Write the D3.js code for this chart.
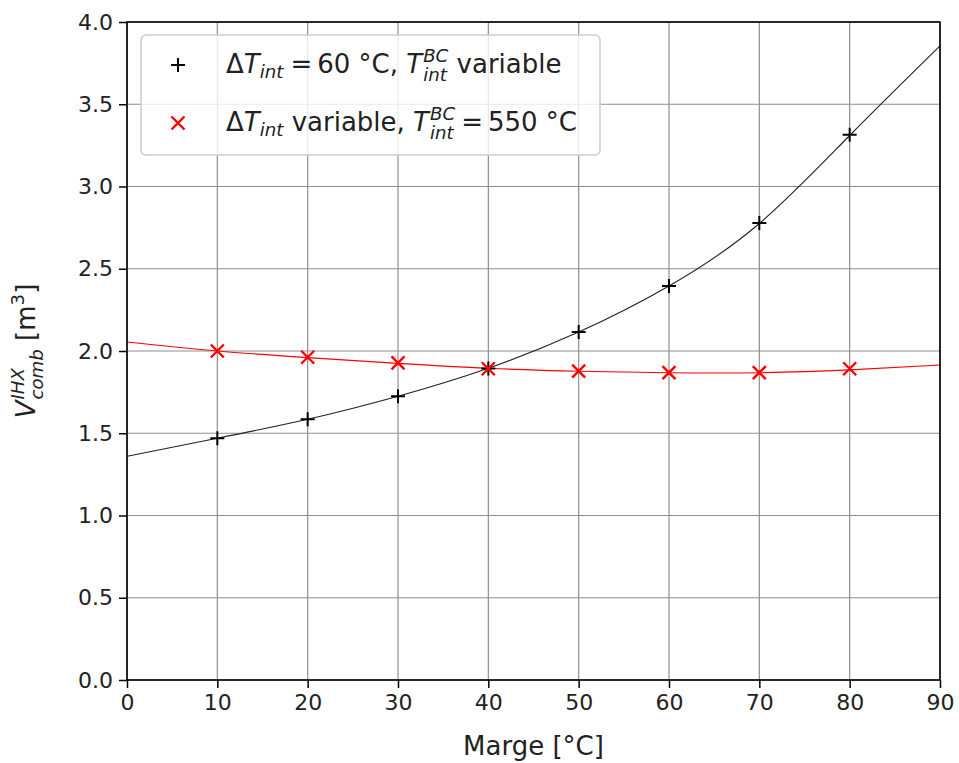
<!DOCTYPE html>
<html><head><meta charset="utf-8">
<script src="https://cdn.jsdelivr.net/npm/d3@7"></script>
<style>
body{margin:0;background:#fff;}
text{font-family:"DejaVu Sans",sans-serif;white-space:pre;}
</style></head>
<body>
<svg id="c" width="959" height="763"></svg>
<script>
// ---- data ----
const marges = [10, 20, 30, 40, 50, 60, 70, 80];
const volFixedDT = [1.47, 1.585, 1.725, 1.893, 2.115, 2.395, 2.778, 3.315];
const volFixedTBC = [2.0, 1.962, 1.928, 1.892, 1.878, 1.868, 1.868, 1.892];
const fitX = [0, 10, 20, 30, 40, 50, 60, 70, 80, 90];
const fitFixedDT = [1.36, 1.47, 1.585, 1.725, 1.895, 2.115, 2.395, 2.775, 3.31, 3.855];
const fitFixedTBC = [2.055, 2.0, 1.96, 1.925, 1.895, 1.877, 1.868, 1.868, 1.885, 1.915];
const xTicks = [0, 10, 20, 30, 40, 50, 60, 70, 80, 90];
const yTicks = [0.0, 0.5, 1.0, 1.5, 2.0, 2.5, 3.0, 3.5, 4.0];

const svg = d3.select("#c");
const L = 127, R = 940, T = 22, B = 680;
const x = d3.scaleLinear().domain([0, 90]).range([L, R]);
const y = d3.scaleLinear().domain([0, 4]).range([B, T]);
const tickFS = 22, labFS = 26;

// grid
const grid = svg.append("g");
grid.selectAll("line.v").data(xTicks).join("line")
  .attr("x1", d => x(d)).attr("x2", d => x(d)).attr("y1", T).attr("y2", B)
  .attr("stroke", "#8f8f8f").attr("stroke-width", 1.2);
grid.selectAll("line.h").data(yTicks).join("line")
  .attr("y1", d => y(d)).attr("y2", d => y(d)).attr("x1", L).attr("x2", R)
  .attr("stroke", "#8f8f8f").attr("stroke-width", 1.2);

// fitted curves
const lineGen = d3.line().x(d => x(d[0])).y(d => y(d[1])).curve(d3.curveNatural);
svg.append("path").datum(fitX.map((v, i) => [v, fitFixedDT[i]]))
  .attr("d", lineGen).attr("fill", "none").attr("stroke", "#222").attr("stroke-width", 1.1);
svg.append("path").datum(fitX.map((v, i) => [v, fitFixedTBC[i]]))
  .attr("d", lineGen).attr("fill", "none").attr("stroke", "#ff0000").attr("stroke-width", 1.1);

// markers
const ms = 7;
function plus(g, cx, cy, col) {
  g.append("path").attr("d", `M${cx - ms},${cy}H${cx + ms}M${cx},${cy - ms}V${cy + ms}`)
    .attr("stroke", col).attr("stroke-width", 2).attr("fill", "none");
}
function cross(g, cx, cy, col) {
  const m = ms - 0.5;
  g.append("path").attr("d", `M${cx - m},${cy - m}L${cx + m},${cy + m}M${cx - m},${cy + m}L${cx + m},${cy - m}`)
    .attr("stroke", col).attr("stroke-width", 2.4).attr("fill", "none");
}
const mk = svg.append("g");
marges.forEach((m, i) => plus(mk, x(m), y(volFixedDT[i]), "#000"));
marges.forEach((m, i) => cross(mk, x(m), y(volFixedTBC[i]), "#ff0000"));

// axes
const xAxis = d3.axisBottom(x).tickValues(xTicks).tickFormat(d3.format("d")).tickSize(8).tickPadding(6);
const yAxis = d3.axisLeft(y).tickValues(yTicks).tickFormat(d3.format(".1f")).tickSize(8).tickPadding(6);
const gx = svg.append("g").attr("transform", `translate(0,${B})`).call(xAxis);
const gy = svg.append("g").attr("transform", `translate(${L},0)`).call(yAxis);
[gx, gy].forEach(g => {
  g.select(".domain").remove();
  g.selectAll(".tick line").attr("stroke", "#000").attr("stroke-width", 1.5);
  g.selectAll(".tick text").attr("fill", "#222").style("font-size", tickFS + "px").style("font-family", "DejaVu Sans");
});
svg.append("rect").attr("x", L).attr("y", T).attr("width", R - L).attr("height", B - T)
  .attr("fill", "none").attr("stroke", "#000").attr("stroke-width", 1.6);

// math text helper: one <text> element, tspans positioned explicitly
const meas = svg.append("text").attr("x", -1000).attr("y", -1000);
function measure(str, size, italic) {
  meas.style("font-size", size + "px").style("font-style", italic ? "italic" : "normal").text(str);
  return meas.node().getComputedTextLength();
}
function mathText(parent, items, size) {
  const t = parent.append("text").attr("fill", "#222");
  let cx = 0;
  const ss = size * 0.7;
  items.forEach(it => {
    if (it.s !== undefined) {
      t.append("tspan").attr("x", cx).attr("y", 0).style("font-size", size + "px")
        .style("font-style", it.it ? "italic" : "normal").text(it.s);
      cx += measure(it.s, size, it.it) + (it.pad || 0);
    } else {
      let w = 0;
      const both = it.sup && it.sub;
      if (it.sup) {
        const itl = it.supIt !== false;
        t.append("tspan").attr("x", cx).attr("y", -size * 0.42).style("font-size", ss + "px")
          .style("font-style", itl ? "italic" : "normal").text(it.sup);
        w = Math.max(w, measure(it.sup, ss, itl));
      }
      if (it.sub) {
        t.append("tspan").attr("x", cx).attr("y", size * (both ? 0.32 : 0.2)).style("font-size", ss + "px")
          .style("font-style", "italic").text(it.sub);
        w = Math.max(w, measure(it.sub, ss, true));
      }
      cx += w + (it.pad || 0);
    }
  });
  return { t, width: cx };
}

// legend
const leg = svg.append("g");
leg.append("rect").attr("x", 141).attr("y", 35).attr("width", 459).attr("height", 120).attr("rx", 5)
  .attr("fill", "#fff").attr("fill-opacity", 0.8).attr("stroke", "#cccccc").attr("stroke-width", 1.5);
plus(leg, 178, 65, "#000");
cross(leg, 178, 123, "#ff0000");
const e1 = mathText(leg, [
  { s: "Δ" }, { s: "T", it: 1 }, { sub: "int", pad: 7 }, { s: "=", pad: 5 }, { s: "60 °C, " },
  { s: "T", it: 1, pad: 1 }, { sup: "BC", sub: "int", pad: 0 }, { s: " variable" }
], labFS);
e1.t.attr("transform", "translate(226,73)");
const e2 = mathText(leg, [
  { s: "Δ" }, { s: "T", it: 1 }, { sub: "int" }, { s: " variable, " },
  { s: "T", it: 1, pad: 1 }, { sup: "BC", sub: "int", pad: 6 }, { s: "=", pad: 5 }, { s: "550 °C" }
], labFS);
e2.t.attr("transform", "translate(226,131)");

// axis labels
svg.append("text").attr("x", (L + R) / 2).attr("y", 755).attr("text-anchor", "middle")
  .attr("fill", "#222").style("font-size", labFS + "px").text("Marge [°C]");
const yl = mathText(svg, [{ s: "V", it: 1, pad: 1 }, { sup: "IHX", sub: "comb", pad: 0 }, { s: " [m" }, { sup: "3", supIt: false }, { s: "]" }], labFS);
yl.t.attr("transform", `translate(35,${(T + B) / 2 + yl.width / 2}) rotate(-90)`);
meas.remove();
</script>
</body></html>
